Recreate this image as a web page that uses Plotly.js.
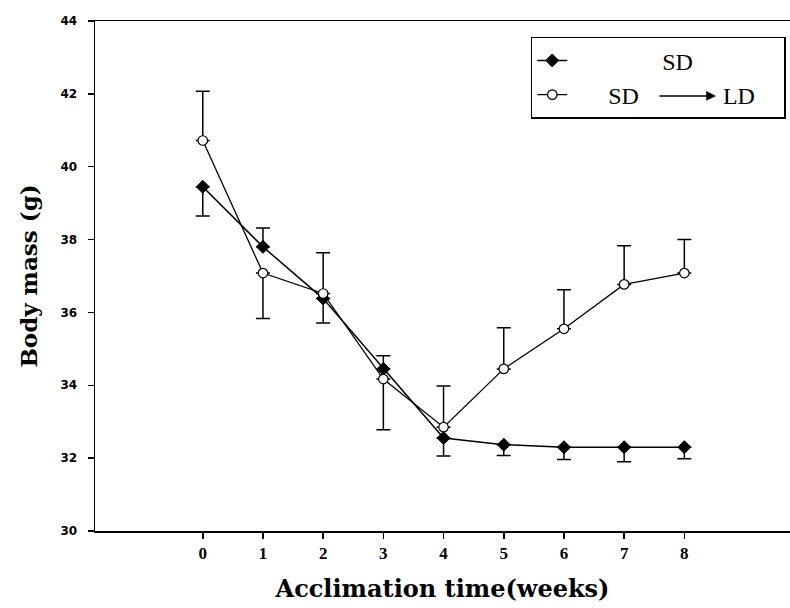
<!DOCTYPE html>
<html>
<head>
<meta charset="utf-8">
<script src="https://cdn.plot.ly/plotly-3.0.1.min.js"></script>
<style>html,body{margin:0;padding:0;background:#fff;}#chart{width:790px;height:608px;}</style>
</head>
<body>
<div id="chart"></div>
<script>
// Data
const weeks = [0, 1, 2, 3, 4, 5, 6, 7, 8];
const sdMass = [39.45, 37.8, 36.38, 34.45, 32.55, 32.37, 32.3, 32.3, 32.3];
const sdErrUp = [0, 0.52, 0, 0.36, 0, 0, 0, 0, 0];
const sdErrDown = [0.8, 0, 0.67, 0, 0.49, 0.3, 0.34, 0.4, 0.32];
const ldMass = [40.72, 37.08, 36.52, 34.17, 32.85, 34.45, 35.55, 36.77, 37.08];
const ldErrUp = [1.35, 0, 1.12, 0, 1.13, 1.13, 1.07, 1.06, 0.92];
const ldErrDown = [0, 1.25, 0, 1.39, 0, 0, 0, 0, 0];
const yTicks = [30, 32, 34, 36, 38, 40, 42, 44];
const xTicks = [0, 1, 2, 3, 4, 5, 6, 7, 8];

const serif = 'DejaVu Serif';
const pad = n => '\u00a0'.repeat(n);

const traces = [
  {
    x: weeks, y: sdMass, name: pad(15) + 'SD', type: 'scatter', mode: 'lines+markers',
    line: {color: '#000', width: 1.5},
    marker: {symbol: 'diamond', size: 10, color: '#000', line: {color: '#000', width: 1}},
    error_y: {type: 'data', symmetric: false, array: sdErrUp, arrayminus: sdErrDown,
              color: '#000', thickness: 1.5, width: 7}
  },
  {
    x: weeks, y: ldMass, name: pad(6) + 'SD' + pad(14) + 'LD' + pad(4), type: 'scatter', mode: 'lines+markers',
    line: {color: '#000', width: 1.3},
    marker: {symbol: 'circle', size: 9.5, color: '#fff', line: {color: '#000', width: 1.2}},
    error_y: {type: 'data', symmetric: false, array: ldErrUp, arrayminus: ldErrDown,
              color: '#000', thickness: 1.5, width: 7}
  }
];

const layout = {
  width: 790, height: 608,
  margin: {l: 95, r: 0, t: 21, b: 77},
  paper_bgcolor: '#fff', plot_bgcolor: '#fff',
  showlegend: true,
  legend: {
    x: 0.627, y: 0.969, xanchor: 'left', yanchor: 'top',
    bordercolor: '#000', borderwidth: 1.5, bgcolor: '#fff',
    font: {family: 'Liberation Serif', size: 24, color: '#000'},
    tracegroupgap: 0, traceorder: 'normal'
  },
  xaxis: {
    range: [-1.79, 9.755], tickvals: xTicks, ticktext: xTicks.map(v => '<b>' + v + '</b>'),
    showgrid: false, zeroline: false, showline: true, linecolor: '#000', linewidth: 1.5,
    mirror: true, ticks: 'outside', ticklen: 6, tickwidth: 1.5, tickcolor: '#000',
    tickfont: {family: 'Liberation Serif', size: 17, color: '#000'},
    title: {text: '<b>Acclimation time(weeks)</b>', font: {family: serif, size: 24, color: '#000'}, standoff: 18}
  },
  yaxis: {
    range: [30, 44], tickvals: yTicks, ticktext: yTicks.map(v => '<b>' + v + '</b>'),
    showgrid: false, zeroline: false, showline: true, linecolor: '#000', linewidth: 1.5,
    ticks: 'outside', ticklen: 6, tickwidth: 1.5, tickcolor: '#000',
    ticklabelstandoff: 8,
    tickfont: {family: 'DejaVu Sans', size: 12, color: '#000'},
    title: {text: '<b>Body mass (g)</b>', font: {family: serif, size: 23, color: '#000'}, standoff: 16}
  },
  annotations: [
    {xref: 'paper', yref: 'paper', x: 0.8935, y: 0.853, ax: -58, ay: 0, text: '',
     showarrow: true, arrowhead: 2, arrowsize: 1.3, arrowwidth: 1.5, arrowcolor: '#000'}
  ]
};

Plotly.newPlot('chart', traces, layout, {displayModeBar: false, staticPlot: true});
</script>
</body>
</html>
